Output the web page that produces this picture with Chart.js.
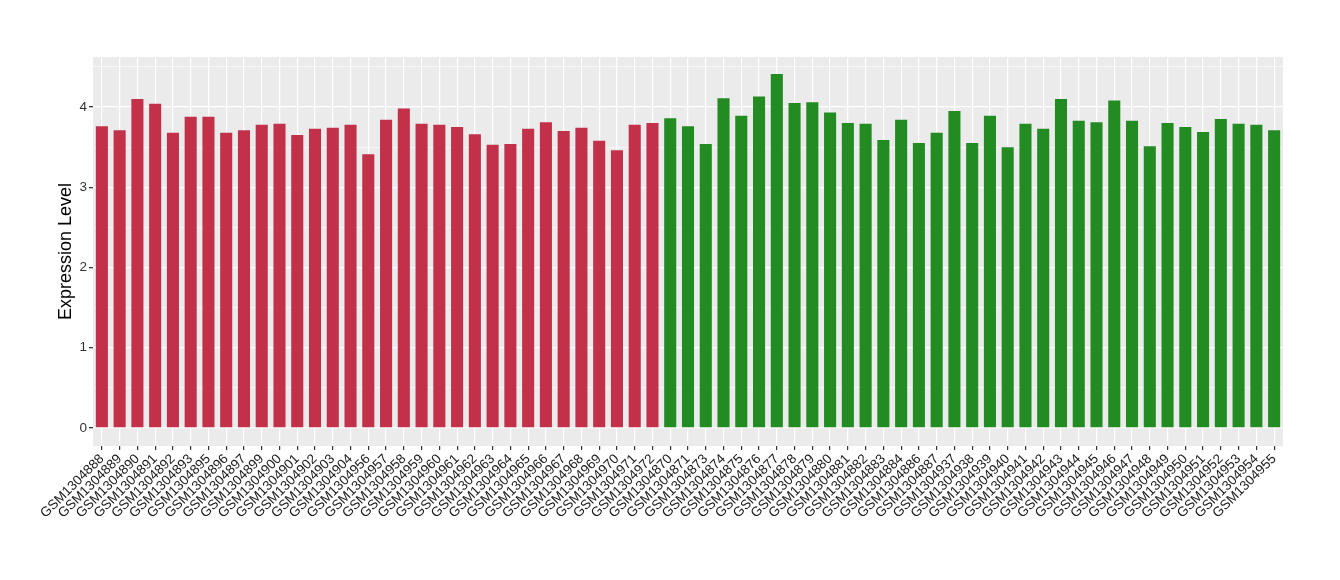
<!DOCTYPE html>
<html lang="en">
  <head>
    <meta charset="UTF-8" />
    <title>Expression Level</title>
    <script src="https://cdn.jsdelivr.net/npm/chart.js"></script>
    <style>
      body { margin: 0; background: #fff; }
      #wrap { width: 1340px; height: 580px; }
    </style>
  </head>
  <body>
    <div id="wrap"><canvas id="chart" width="1340" height="580"></canvas></div>
    <script>
      // sample names
      const redSamples = [
        "GSM1304888", "GSM1304889", "GSM1304890", "GSM1304891", "GSM1304892",
        "GSM1304893", "GSM1304895", "GSM1304896", "GSM1304897", "GSM1304899",
        "GSM1304900", "GSM1304901", "GSM1304902", "GSM1304903", "GSM1304904",
        "GSM1304956", "GSM1304957", "GSM1304958", "GSM1304959", "GSM1304960",
        "GSM1304961", "GSM1304962", "GSM1304963", "GSM1304964", "GSM1304965",
        "GSM1304966", "GSM1304967", "GSM1304968", "GSM1304969", "GSM1304970",
        "GSM1304971", "GSM1304972"
      ];
      const greenSamples = [
        "GSM1304870", "GSM1304871", "GSM1304873", "GSM1304874", "GSM1304875",
        "GSM1304876", "GSM1304877", "GSM1304878", "GSM1304879", "GSM1304880",
        "GSM1304881", "GSM1304882", "GSM1304883", "GSM1304884", "GSM1304886",
        "GSM1304887", "GSM1304937", "GSM1304938", "GSM1304939", "GSM1304940",
        "GSM1304941", "GSM1304942", "GSM1304943", "GSM1304944", "GSM1304945",
        "GSM1304946", "GSM1304947", "GSM1304948", "GSM1304949", "GSM1304950",
        "GSM1304951", "GSM1304952", "GSM1304953", "GSM1304954", "GSM1304955"
      ];

      // expression values
      const redValues = [
        3.76, 3.71, 4.10, 4.04, 3.68, 3.88, 3.88, 3.68, 3.71, 3.78,
        3.79, 3.65, 3.73, 3.74, 3.78, 3.41, 3.84, 3.98, 3.79, 3.78,
        3.75, 3.66, 3.53, 3.54, 3.73, 3.81, 3.70, 3.74, 3.58, 3.46,
        3.78, 3.80
      ];
      const greenValues = [
        3.86, 3.76, 3.54, 4.11, 3.89, 4.13, 4.41, 4.05, 4.06, 3.93,
        3.80, 3.79, 3.59, 3.84, 3.55, 3.68, 3.95, 3.55, 3.89, 3.50,
        3.79, 3.73, 4.10, 3.83, 3.81, 4.08, 3.83, 3.51, 3.80, 3.75,
        3.69, 3.85, 3.79, 3.78, 3.71
      ];

      const yTicks = [0, 0.5, 1, 1.5, 2, 2.5, 3, 3.5, 4, 4.5];

      const labels = redSamples.concat(greenSamples);
      const values = redValues.concat(greenValues);
      const colors = labels.map((_, i) =>
        i < redSamples.length ? "#C23149" : "#228B22"
      );

      // grey panel like ggplot
      const panelBg = {
        id: "panelBg",
        beforeDraw(chart) {
          const a = chart.chartArea;
          const ctx = chart.ctx;
          ctx.save();
          ctx.fillStyle = "#EBEBEB";
          ctx.fillRect(a.left, a.top, a.right - a.left, a.bottom - a.top);
          ctx.restore();
        },
      };

      const isMajor = (v) => Math.abs(v - Math.round(v)) < 1e-6;

      new Chart(document.getElementById("chart"), {
        type: "bar",
        data: {
          labels,
          datasets: [
            {
              data: values,
              backgroundColor: colors,
              borderWidth: 0,
              barPercentage: 0.68,
              categoryPercentage: 1,
            },
          ],
        },
        options: {
          responsive: false,
          animation: false,
          layout: { padding: { top: 57, right: 57, left: 55, bottom: 0 } },
          plugins: {
            legend: { display: false },
            tooltip: { enabled: false },
          },
          scales: {
            x: {
              offset: true,
              border: { display: false },
              grid: {
                offset: false,
                color: "#FFFFFF",
                lineWidth: 1.2,
                drawTicks: true,
                tickLength: 4,
                tickColor: "#333333",
              },
              ticks: {
                autoSkip: false,
                maxRotation: 45,
                minRotation: 45,
                padding: 1,
                color: "#1A1A1A",
                font: { family: "'Liberation Sans', Arial, sans-serif", size: 13.5 },
              },
              afterFit(scale) {
                scale.height = 134;
              },
            },
            y: {
              min: -0.224,
              max: 4.623,
              border: { display: false },
              afterBuildTicks(scale) {
                scale.ticks = yTicks.map((v) => ({ value: v }));
              },
              grid: {
                color: "#FFFFFF",
                lineWidth: (c) => (c.tick && isMajor(c.tick.value) ? 1.3 : 0.6),
                tickLength: 4,
                tickColor: (c) =>
                  c.tick && isMajor(c.tick.value) ? "#333333" : "rgba(0,0,0,0)",
              },
              ticks: {
                padding: 2,
                color: "#333333",
                font: { family: "'Liberation Sans', Arial, sans-serif", size: 13.5 },
                callback: (v) => (isMajor(v) ? String(Math.round(v)) : ""),
              },
              title: {
                display: true,
                text: "Expression Level",
                color: "#000000",
                font: { family: "'Liberation Sans', Arial, sans-serif", size: 18 },
                padding: { top: 0, bottom: 4 },
              },
              afterFit(scale) {
                scale.width = 38;
              },
            },
          },
        },
        plugins: [panelBg],
      });
    </script>
  </body>
</html>
